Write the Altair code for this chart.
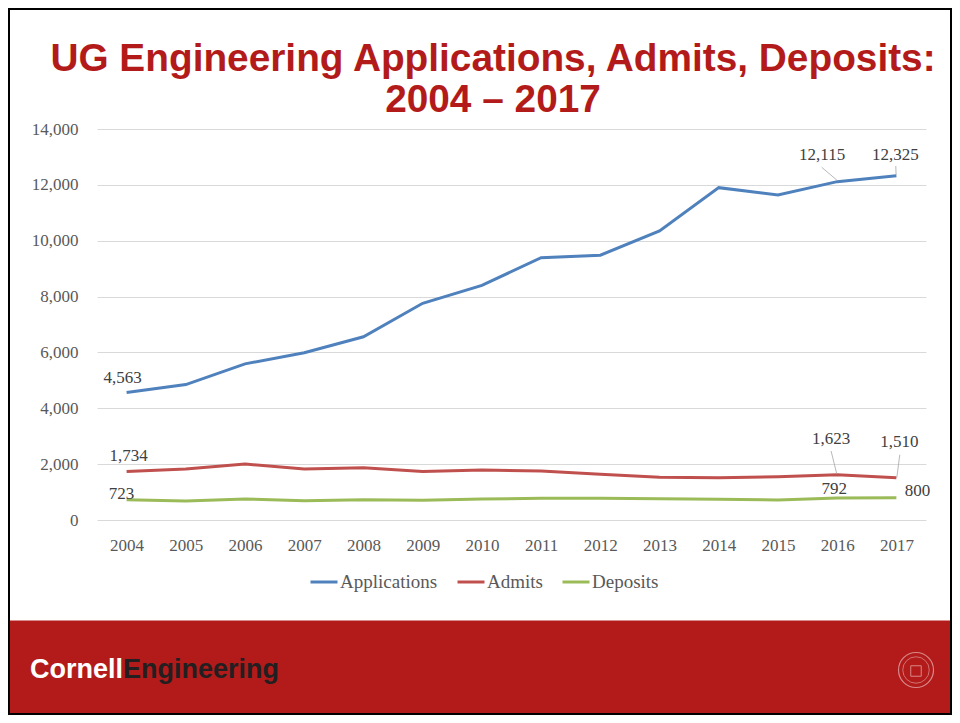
import altair as alt
import pandas as pd

# ---------------- data ----------------
years = [2004, 2005, 2006, 2007, 2008, 2009, 2010, 2011, 2012, 2013, 2014, 2015, 2016, 2017]
applications = [4563, 4850, 5590, 5990, 6560, 7760, 8400, 9390, 9480, 10350, 11900, 11640, 12115, 12325]
admits = [1734, 1830, 2005, 1830, 1875, 1735, 1790, 1755, 1635, 1530, 1515, 1550, 1623, 1510]
deposits = [723, 680, 752, 690, 727, 705, 750, 776, 780, 760, 745, 716, 792, 800]
series_names = ["Applications", "Admits", "Deposits"]
series_colors = ["#4F81BD", "#C0504D", "#9BBB59"]

title_line1 = "UG Engineering Applications, Admits, Deposits:"
title_line2 = "2004 \u2013 2017"

# labelled points: (series, year)
label_points = [
    ("Applications", 2004), ("Admits", 2004), ("Deposits", 2004),
    ("Applications", 2016), ("Applications", 2017),
    ("Admits", 2016), ("Admits", 2017),
    ("Deposits", 2016), ("Deposits", 2017),
]

# ---------------- layout / style ----------------
W, H = 829, 391
PAD_L, PAD_T, PAD_R, PAD_B = 89, 121, 26, 195
Y_MAX = 14000
X_DOMAIN = [2003.5, 2017.5]
PX_PER_YEAR = W / (X_DOMAIN[1] - X_DOMAIN[0])
PX_PER_UNIT = H / Y_MAX

SERIF = "Liberation Serif"
SANS = "Liberation Sans"
CRIMSON = "#B31B1B"
AXIS_GRAY = "#595959"
LABEL_GRAY = "#404040"

# pixel offsets of the data labels from their points
label_offsets = {
    ("Applications", 2004): (-4, -10),
    ("Admits", 2004): (2, -11),
    ("Deposits", 2004): (-5, -1),
    ("Applications", 2016): (-15, -22),
    ("Applications", 2017): (-1, -16),
    ("Admits", 2016): (-6, -31),
    ("Admits", 2017): (3, -31),
    ("Deposits", 2016): (-3, -4),
    ("Deposits", 2017): (21, -2),
}
# leader lines (start offset, end offset) in px, relative to the point
leader_offsets = {
    ("Applications", 2016): ((-15.4, -14.3), (-0.4, -1.6)),
    ("Applications", 2017): ((-0.6, -9.8), (-0.3, -0.8)),
    ("Admits", 2016): ((-6.1, -23.7), (-0.4, -0.7)),
    ("Admits", 2017): ((3.4, -23.1), (0.4, -0.1)),
}

# ---------------- tables ----------------
values_by_series = {"Applications": applications, "Admits": admits, "Deposits": deposits}
rows = []
for s in series_names:
    for y, v in zip(years, values_by_series[s]):
        rows.append({"year": y, "value": v, "series": s})
df = pd.DataFrame(rows)

x_scale = alt.Scale(domain=X_DOMAIN, nice=False, zero=False)
y_scale = alt.Scale(domain=[0, Y_MAX], nice=False)

x_axis = alt.Axis(values=years, format="d", grid=False, domain=False, ticks=False,
                  labelPadding=17, labelFont=SERIF, labelFontSize=17,
                  labelColor=AXIS_GRAY, labelFlush=False, title=None)
y_axis = alt.Axis(values=list(range(0, Y_MAX + 1, 2000)), format=",d", grid=True,
                  gridColor="#D9D9D9", gridWidth=1.2, domain=False, ticks=False,
                  labelPadding=19, labelFont=SERIF, labelFontSize=17,
                  labelColor=AXIS_GRAY, title=None)

lines = alt.Chart(df).mark_line(strokeWidth=3).encode(
    x=alt.X("year:Q", scale=x_scale, axis=x_axis),
    y=alt.Y("value:Q", scale=y_scale, axis=y_axis),
    color=alt.Color("series:N",
                    scale=alt.Scale(domain=series_names, range=series_colors),
                    legend=alt.Legend(orient="none", legendX=212, legendY=438,
                                      direction="horizontal", title=None,
                                      symbolType="stroke", symbolSize=729,
                                      symbolStrokeWidth=3, labelFont=SERIF,
                                      labelFontSize=19, labelColor=AXIS_GRAY,
                                      labelOffset=1, columnPadding=13, padding=0)),
    detail="series:N",
)

layers = []

# footer band and slide frame
blank = pd.DataFrame({"k": [0]})
footer = alt.Chart(blank).mark_rect(color=CRIMSON).encode(
    x=alt.value(-PAD_L), x2=alt.value(W + PAD_R),
    y=alt.value(491.5), y2=alt.value(H + PAD_B),
)
frame = alt.Chart(blank).mark_rect(fill=None, stroke="#000000", strokeWidth=4).encode(
    x=alt.value(-PAD_L), x2=alt.value(W + PAD_R),
    y=alt.value(-PAD_T), y2=alt.value(H + PAD_B),
)
layers += [footer]

# title
t1 = alt.Chart(blank).mark_text(text=title_line1, font=SANS, fontWeight="bold",
                                fontSize=38.8, color=CRIMSON, align="center",
                                baseline="alphabetic").encode(
    x=alt.value(396), y=alt.value(-58))
t2 = alt.Chart(blank).mark_text(text=title_line2, font=SANS, fontWeight="bold",
                                fontSize=38.8, color=CRIMSON, align="center",
                                baseline="alphabetic").encode(
    x=alt.value(396), y=alt.value(-17))
layers += [t1, t2]

# logo
logo1 = alt.Chart(blank).mark_text(text="Cornell", font=SANS, fontWeight="bold",
                                   fontSize=27, color="#FFFFFF", align="right",
                                   baseline="alphabetic").encode(
    x=alt.value(26), y=alt.value(548.5))
logo2 = alt.Chart(blank).mark_text(text="Engineering", font=SANS, fontWeight="bold",
                                   fontSize=27, color="#231F20", align="left",
                                   baseline="alphabetic").encode(
    x=alt.value(26), y=alt.value(548.5))
layers += [logo1, logo2]

# seal
seal_outer = alt.Chart(blank).mark_point(shape="circle", size=1225, filled=False,
                                         stroke="#E9B5B5", strokeWidth=1.2).encode(
    x=alt.value(819), y=alt.value(541))
seal_inner = alt.Chart(blank).mark_point(shape="circle", size=700, filled=False,
                                         stroke="#E9B5B5", strokeWidth=0.8).encode(
    x=alt.value(819), y=alt.value(541))
seal_shield = alt.Chart(blank).mark_point(shape="square", size=110, filled=False,
                                          stroke="#E9B5B5", strokeWidth=1).encode(
    x=alt.value(819), y=alt.value(542))
layers += [seal_outer, seal_inner, seal_shield]

layers.append(lines)

# leader lines (computed from data values + pixel offsets)
lead_rows = []
for (s, yr), ((sx, sy), (ex, ey)) in leader_offsets.items():
    v = values_by_series[s][years.index(yr)]
    lead_rows.append({
        "x1": yr + sx / PX_PER_YEAR, "y1": v - sy / PX_PER_UNIT,
        "x2": yr + ex / PX_PER_YEAR, "y2": v - ey / PX_PER_UNIT,
    })
leaders = alt.Chart(pd.DataFrame(lead_rows)).mark_rule(color="#A6A6A6", strokeWidth=0.8).encode(
    x=alt.X("x1:Q", scale=x_scale, axis=x_axis), y=alt.Y("y1:Q", scale=y_scale, axis=y_axis),
    x2="x2:Q", y2="y2:Q",
)
layers.append(leaders)

# data labels
for (s, yr) in label_points:
    v = values_by_series[s][years.index(yr)]
    dx, dy = label_offsets[(s, yr)]
    lab = alt.Chart(pd.DataFrame({"year": [yr], "value": [v], "txt": [f"{v:,}"]})).mark_text(
        font=SERIF, fontSize=17, color=LABEL_GRAY, align="center",
        baseline="alphabetic", dx=dx, dy=dy).encode(
        x=alt.X("year:Q", scale=x_scale, axis=x_axis),
        y=alt.Y("value:Q", scale=y_scale, axis=y_axis),
        text="txt:N")
    layers.append(lab)

layers.append(frame)

chart = alt.layer(*layers).properties(
    width=W, height=H,
    autosize=alt.AutoSizeParams(type="none"),
    padding={"left": PAD_L, "top": PAD_T, "right": PAD_R, "bottom": PAD_B},
    background="#FFFFFF",
).configure_view(stroke=None)

chart.save("out.html", embed_options={"renderer": "svg", "actions": False})
